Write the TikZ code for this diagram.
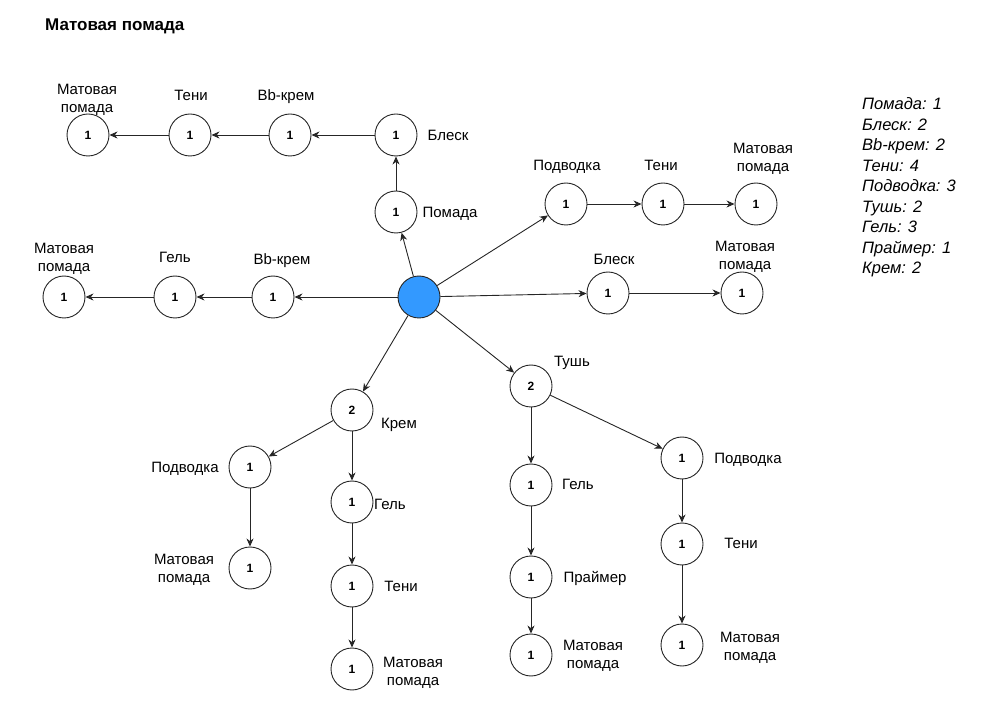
\documentclass[tikz,border=0pt]{standalone}
\usepackage{fontspec}
\setmainfont{Liberation Sans}
\usetikzlibrary{arrows.meta, positioning}

\begin{document}
\begin{tikzpicture}[x=1pt, y=-1pt,
  cnode/.style={circle, draw=black!85, line width=0.9pt, minimum size=42pt, inner sep=0pt, fill=white, font=\bfseries\fontsize{12}{12}\selectfont},
  lbl/.style={inner sep=0pt, align=center, text height=13.5pt, text depth=3pt, font=\fontsize{15}{18}\selectfont},
  lbltwo/.style={inner sep=0pt, align=center, yshift=-2pt, font=\fontsize{15}{18}\selectfont},
  arr/.style={draw=black!85, line width=0.9pt, -{Stealth[length=8pt, width=7pt, inset=2.5pt]}}]
\useasboundingbox (0,0) rectangle (991,708);
\node[anchor=west, inner sep=0pt, font=\bfseries\fontsize{17}{18}\selectfont] (title) at (45,26) {Матовая помада};
% root
\node[cnode, fill={rgb,255:red,51;green,153;blue,255}] (root) at (419,297) {};
% upper left branch
\node[cnode] (pom) at (396,212) {1};
\node[cnode] (bl1) at (396,135) {1};
\node[cnode] (bb1) at (290,135) {1};
\node[cnode] (ten1) at (190,135) {1};
\node[cnode] (mp1) at (88,135) {1};
\node[lbl] (lpom) at (450,212) {Помада};
\node[lbl] (lbl1) at (448,135) {Блеск};
\node[lbl] (lbb1) at (286,95) {Bb-крем};
\node[lbl] (lten1) at (191,95) {Тени};
\node[lbltwo] (lmp1) at (87,98) {Матовая\\помада};
% left branch
\node[cnode] (bb2) at (273,297) {1};
\node[cnode] (gel2) at (175,297) {1};
\node[cnode] (mp2) at (64,297) {1};
\node[lbl] (lbb2) at (282,259) {Bb-крем};
\node[lbl] (lgel2) at (175,257) {Гель};
\node[lbltwo] (lmp2) at (64,257) {Матовая\\помада};
% upper right branch
\node[cnode] (pod3) at (566,204) {1};
\node[cnode] (ten3) at (663,204) {1};
\node[cnode] (mp3) at (756,204) {1};
\node[lbl] (lpod3) at (567,165) {Подводка};
\node[lbl] (lten3) at (661,165) {Тени};
\node[lbltwo] (lmp3) at (763,157) {Матовая\\помада};
% right branch
\node[cnode] (bl4) at (608,293) {1};
\node[cnode] (mp4) at (742,293) {1};
\node[lbl] (lbl4) at (614,259) {Блеск};
\node[lbltwo] (lmp4) at (745,255) {Матовая\\помада};
% Krem branch
\node[cnode] (krem) at (352,410) {2};
\node[cnode] (pod5) at (250,467) {1};
\node[cnode] (mp5) at (250,568) {1};
\node[cnode] (gel5) at (352,502) {1};
\node[cnode] (ten5) at (352,586) {1};
\node[cnode] (mp5b) at (352,669) {1};
\node[lbl] (lkrem) at (399,423) {Крем};
\node[lbl] (lpod5) at (185,467) {Подводка};
\node[lbltwo] (lmp5) at (184,568) {Матовая\\помада};
\node[lbl] (lgel5) at (390,504) {Гель};
\node[lbl] (lten5) at (401,586) {Тени};
\node[lbltwo] (lmp5b) at (413,671) {Матовая\\помада};
% Tush branch
\node[cnode] (tush) at (531,386) {2};
\node[cnode] (gel6) at (531,485) {1};
\node[cnode] (pr6) at (531,577) {1};
\node[cnode] (mp6) at (531,655) {1};
\node[cnode] (pod7) at (682,458) {1};
\node[cnode] (ten7) at (682,544) {1};
\node[cnode] (mp7) at (682,645) {1};
\node[lbl] (ltush) at (572,361) {Тушь};
\node[lbl] (lgel6) at (578,484) {Гель};
\node[lbl] (lpr6) at (595,577) {Праймер};
\node[lbltwo] (lmp6) at (593,654) {Матовая\\помада};
\node[lbl] (lpod7) at (748,458) {Подводка};
\node[lbl] (lten7) at (741,543) {Тени};
\node[lbltwo] (lmp7) at (750,646) {Матовая\\помада};
% connectors
\draw[arr] (root) -- (pom);
\draw[arr] (pom) -- (bl1);
\draw[arr] (bl1) -- (bb1);
\draw[arr] (bb1) -- (ten1);
\draw[arr] (ten1) -- (mp1);
\draw[arr] (root) -- (bb2);
\draw[arr] (bb2) -- (gel2);
\draw[arr] (gel2) -- (mp2);
\draw[arr] (root) -- (pod3);
\draw[arr] (pod3) -- (ten3);
\draw[arr] (ten3) -- (mp3);
\draw[arr] (root) -- (bl4);
\draw[arr] (bl4) -- (mp4);
\draw[arr] (root) -- (krem);
\draw[arr] (krem) -- (pod5);
\draw[arr] (pod5) -- (mp5);
\draw[arr] (krem) -- (gel5);
\draw[arr] (gel5) -- (ten5);
\draw[arr] (ten5) -- (mp5b);
\draw[arr] (root) -- (tush);
\draw[arr] (tush) -- (gel6);
\draw[arr] (gel6) -- (pr6);
\draw[arr] (pr6) -- (mp6);
\draw[arr] (tush) -- (pod7);
\draw[arr] (pod7) -- (ten7);
\draw[arr] (ten7) -- (mp7);
% legend
\foreach \t [count=\i] in {Помада: 1, Блеск: 2, Bb-крем: 2, Тени: 4, Подводка: 3, Тушь: 2, Гель: 3, Праймер: 1, Крем: 2}
  \node[anchor=base west, inner sep=0pt, font=\itshape\fontsize{16.5}{18}\selectfont] (leg\i) at (862,{110+20.5*(\i-1)}) {\t};
\end{tikzpicture}
\end{document}
